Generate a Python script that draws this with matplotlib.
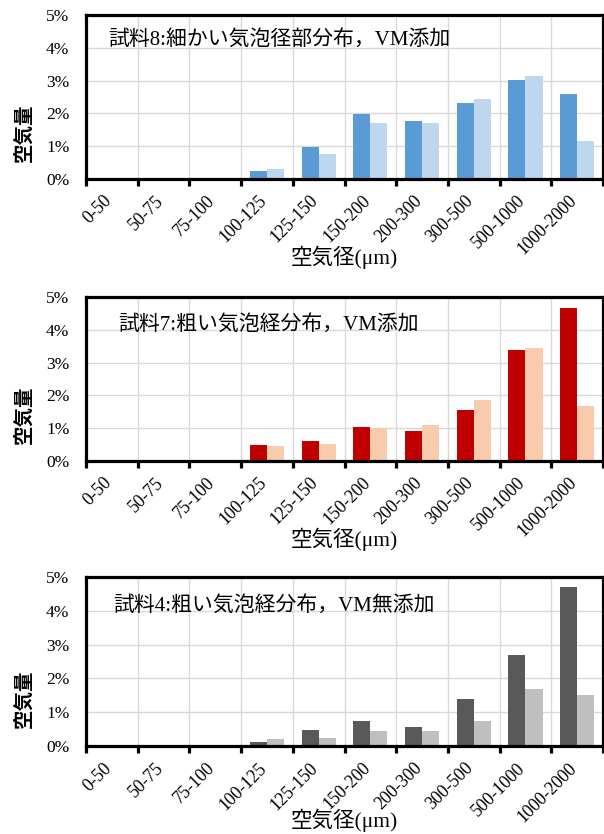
import matplotlib
matplotlib.use('Agg')
import matplotlib.pyplot as plt

sizes = ['0-50', '50-75', '75-100', '100-125', '125-150', '150-200',
         '200-300', '300-500', '500-1000', '1000-2000']

# air content [%] per bubble size class, two measurements per sample
s8_a = [0, 0, 0, 0.24, 0.97, 1.99, 1.77, 2.33, 3.02, 2.60]
s8_b = [0, 0, 0, 0.29, 0.75, 1.70, 1.72, 2.43, 3.13, 1.17]
s7_a = [0, 0, 0, 0.49, 0.61, 1.05, 0.91, 1.57, 3.39, 4.68]
s7_b = [0, 0, 0, 0.46, 0.51, 1.00, 1.09, 1.87, 3.44, 1.69]
s4_a = [0, 0, 0, 0.11, 0.48, 0.74, 0.57, 1.40, 2.68, 4.70]
s4_b = [0, 0, 0, 0.20, 0.25, 0.44, 0.44, 0.73, 1.68, 1.52]

titles = ['試料8:細かい気泡径部分布，VM添加',
          '試料7:粗い気泡経分布，VM添加',
          '試料4:粗い気泡経分布，VM無添加']
yticks = [0, 1, 2, 3, 4, 5]

panels = [
    (s8_a, s8_b, '#5B9BD5', '#BDD7EE', [0.1424, 0.7854, 0.856, 0.1966], 0.043, 0.85, -0.48),
    (s7_a, s7_b, '#C00000', '#F8CBAD', [0.1424, 0.4472, 0.856, 0.1966], 0.062, 0.83, -0.48),
    (s4_a, s4_b, '#595959', '#BFBFBF', [0.1424, 0.1055, 0.856, 0.2027], 0.052, 0.83, -0.44),
]

serif_cjk = ['Liberation Serif', 'Noto Sans CJK JP']

fig = plt.figure(figsize=(6.04, 8.34), dpi=100)

for (a, b, c1, c2, rect, tx, ty, xly), title in zip(panels, titles):
    ax = fig.add_axes(rect)
    x = list(range(len(sizes)))
    w = 0.33
    ax.bar([i - w / 2 for i in x], a, width=w, color=c1, zorder=3)
    ax.bar([i + w / 2 for i in x], b, width=w, color=c2, zorder=3)

    ax.set_xlim(-0.5, len(sizes) - 0.5)
    ax.set_ylim(0, 5)

    # gridlines at the class boundaries and at each percent
    for k in range(1, len(sizes)):
        ax.axvline(k - 0.5, color='#D9D9D9', lw=1.0, zorder=1)
    for v in yticks[1:-1]:
        ax.axhline(v, color='#D9D9D9', lw=1.0, zorder=1)

    for sp in ax.spines.values():
        sp.set_linewidth(2.3)
        sp.set_color('black')
        sp.set_zorder(5)

    ax.set_yticks(yticks)
    ax.set_yticklabels(['%d%%' % v for v in yticks], family='Liberation Serif', fontsize=12.5)
    ax.tick_params(axis='y', length=0, pad=12)

    ax.set_xticks([k - 0.5 for k in range(len(sizes) + 1)])
    ax.set_xticklabels([])
    ax.tick_params(axis='x', direction='out', length=5, width=2.3)
    for i, lab in enumerate(sizes):
        ax.text(i + 0.06, -0.4, lab, rotation=45, ha='right', va='top',
                family='Liberation Serif', fontsize=12.8)

    ax.text(tx, ty, title, transform=ax.transAxes, family=serif_cjk,
            fontsize=15, va='center', ha='left')
    ax.text(0.5, xly, '空気径(μm)', transform=ax.transAxes, family=serif_cjk,
            fontsize=15.5, ha='center', va='center')
    ax.text(-0.12, 0.28, '空気量', transform=ax.transAxes, rotation=90,
            family='Noto Sans CJK JP', fontweight='bold', fontsize=14,
            ha='center', va='center')

fig.savefig('out.png', dpi=100)
